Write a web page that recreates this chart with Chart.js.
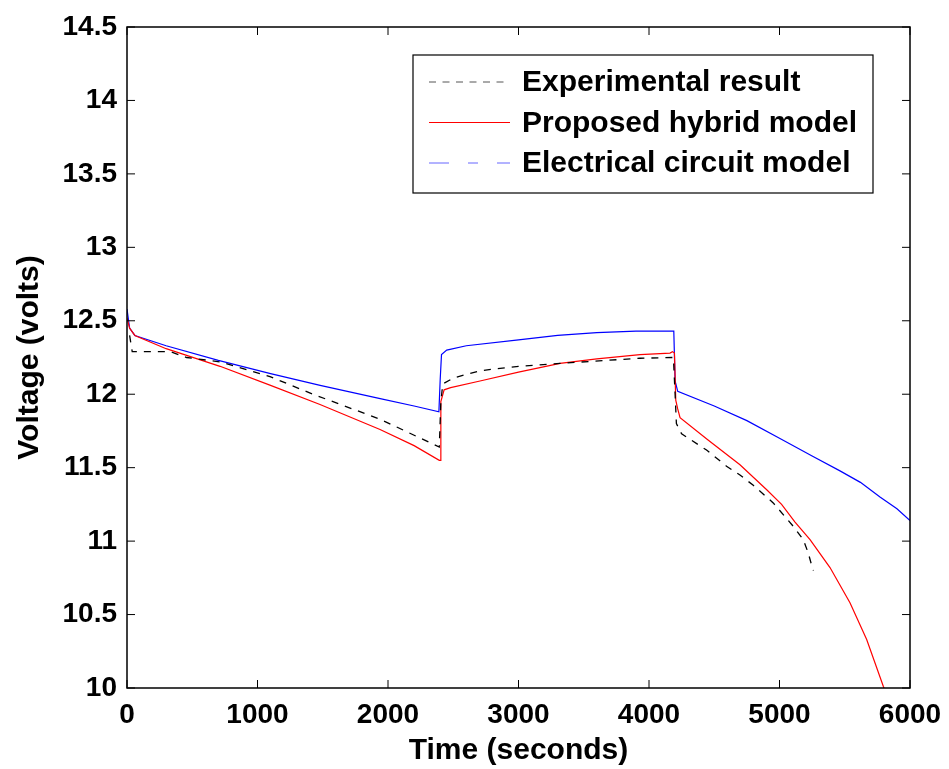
<!DOCTYPE html>
<html>
<head>
<meta charset="utf-8">
<script src="https://cdn.jsdelivr.net/npm/chart.js@4.4.0/dist/chart.umd.min.js"></script>
<style>
html, body { margin: 0; padding: 0; background: #fff; }
#wrap { width: 949px; height: 769px; }
</style>
</head>
<body>
<div id="wrap"><canvas id="voltChart"></canvas></div>
<script>
// tick values on both axes
var timeTicks = [0, 1000, 2000, 3000, 4000, 5000, 6000];
var voltTicks = [10, 10.5, 11, 11.5, 12, 12.5, 13, 13.5, 14, 14.5];

// experimental result (black dashed)
var expTime = [20, 40, 330, 457, 713, 1096, 1425, 1939, 2322, 2393, 2405, 2420, 2500, 2705, 3000, 3318, 3931, 4187, 4200, 4210, 4250, 4441, 4594, 4697, 4799, 4952, 5106, 5182, 5220, 5251, 5260];
var expVolt = [12.40, 12.29, 12.29, 12.25, 12.22, 12.12, 12.00, 11.83, 11.67, 11.64, 11.95, 12.07, 12.11, 12.16, 12.19, 12.21, 12.245, 12.25, 12.00, 11.80, 11.73, 11.62, 11.51, 11.45, 11.38, 11.26, 11.10, 11.01, 10.92, 10.82, 10.80];

// proposed hybrid model (red)
var hybTime = [0, 20, 60, 300, 713, 1100, 1479, 1939, 2200, 2393, 2400, 2405, 2430, 2480, 2705, 3000, 3318, 3600, 3931, 4161, 4180, 4195, 4205, 4220, 4238, 4450, 4697, 4902, 5016, 5119, 5234, 5387, 5540, 5668, 5796, 5810];
var hybVolt = [12.52, 12.45, 12.40, 12.31, 12.19, 12.06, 11.93, 11.76, 11.65, 11.55, 11.55, 11.95, 12.03, 12.045, 12.09, 12.15, 12.21, 12.24, 12.27, 12.28, 12.29, 12.28, 11.96, 11.90, 11.84, 11.69, 11.52, 11.35, 11.25, 11.13, 11.01, 10.82, 10.58, 10.33, 10.01, 9.98];

// electrical circuit model (blue)
var ecmTime = [0, 20, 60, 300, 700, 1100, 1480, 1940, 2200, 2390, 2400, 2410, 2450, 2600, 3000, 3300, 3600, 3900, 4190, 4200, 4220, 4500, 4750, 5000, 5250, 5460, 5620, 5770, 5900, 6000];
var ecmVolt = [12.58, 12.45, 12.40, 12.33, 12.23, 12.14, 12.06, 11.97, 11.92, 11.88, 12.10, 12.27, 12.30, 12.33, 12.37, 12.40, 12.42, 12.43, 12.43, 12.09, 12.02, 11.92, 11.82, 11.70, 11.58, 11.48, 11.40, 11.30, 11.22, 11.14];

function toPoints(xs, ys) {
  return xs.map(function (x, i) { return { x: x, y: ys[i] }; });
}

var fontFamily = "'Liberation Sans', Arial, sans-serif";
var tickFont = { family: fontFamily, size: 28, weight: 'bold' };
var titleFont = { family: fontFamily, size: 30, weight: 'bold' };

// box round the axes, inward ticks, and the legend inside the plot
var framePlugin = {
  id: 'frame',
  afterDraw: function (chart) {
    var c = chart.ctx, a = chart.chartArea;
    var xs = chart.scales.x, ys = chart.scales.y;
    c.save();
    c.strokeStyle = '#000';
    c.lineWidth = 1.5;
    c.strokeRect(a.left, a.top, a.right - a.left, a.bottom - a.top);
    c.lineWidth = 1;
    c.beginPath();
    timeTicks.forEach(function (t) {
      var px = xs.getPixelForValue(t);
      c.moveTo(px, a.bottom); c.lineTo(px, a.bottom - 8);
      c.moveTo(px, a.top); c.lineTo(px, a.top + 8);
    });
    voltTicks.forEach(function (v) {
      var py = ys.getPixelForValue(v);
      c.moveTo(a.left, py); c.lineTo(a.left + 8, py);
      c.moveTo(a.right, py); c.lineTo(a.right - 8, py);
    });
    c.stroke();

    // legend
    var bx = 413, by = 55, bw = 460, bh = 138;
    c.fillStyle = '#fff';
    c.fillRect(bx, by, bw, bh);
    c.lineWidth = 1.2;
    c.strokeRect(bx, by, bw, bh);
    c.font = 'bold 30px ' + fontFamily;
    c.textBaseline = 'middle';
    c.fillStyle = '#000';
    chart.data.datasets.forEach(function (ds, i) {
      var y = by + 27 + i * 40.5;
      c.beginPath();
      c.strokeStyle = ds.legendColor;
      c.lineWidth = 1;
      c.setLineDash(ds.legendDash);
      c.moveTo(bx + 16, y); c.lineTo(bx + 97, y);
      c.stroke();
      c.setLineDash([]);
      c.fillText(ds.label, bx + 109, y + 1);
    });
    c.restore();
  }
};

new Chart(document.getElementById('voltChart'), {
  type: 'line',
  data: {
    datasets: [
      {
        label: 'Experimental result',
        data: toPoints(expTime, expVolt),
        borderColor: '#000000',
        borderWidth: 1.3,
        borderDash: [7, 7],
        legendColor: '#555555',
        legendDash: [7, 6.5]
      },
      {
        label: 'Proposed hybrid model',
        data: toPoints(hybTime, hybVolt),
        borderColor: '#ff0000',
        borderWidth: 1.2,
        legendColor: '#ff0000',
        legendDash: []
      },
      {
        label: 'Electrical circuit model',
        data: toPoints(ecmTime, ecmVolt),
        borderColor: '#0000ff',
        borderWidth: 1.2,
        legendColor: '#6666ff',
        legendDash: [20, 19, 10, 19]
      }
    ]
  },
  options: {
    responsive: true,
    maintainAspectRatio: false,
    animation: false,
    layout: { padding: { left: 0, right: 39, top: 27, bottom: 0 } },
    elements: { point: { radius: 0 }, line: { tension: 0 } },
    plugins: { legend: { display: false }, tooltip: { enabled: false } },
    scales: {
      x: {
        type: 'linear',
        min: 0,
        max: 6000,
        afterFit: function (s) { s.height = 81; },
        afterBuildTicks: function (s) { s.ticks = timeTicks.map(function (v) { return { value: v }; }); },
        grid: { display: false },
        border: { display: false },
        ticks: {
          color: '#000',
          font: tickFont,
          padding: 2,
          maxRotation: 0,
          autoSkip: false,
          callback: function (v) { return String(v); }
        },
        title: { display: true, text: 'Time (seconds)', color: '#000', font: titleFont, padding: { top: 0, bottom: 0 } }
      },
      y: {
        min: 10,
        max: 14.5,
        afterFit: function (s) { s.width = 127; },
        afterBuildTicks: function (s) { s.ticks = voltTicks.map(function (v) { return { value: v }; }); },
        grid: { display: false },
        border: { display: false },
        ticks: {
          color: '#000',
          font: tickFont,
          padding: 2,
          autoSkip: false,
          callback: function (v) { return String(v); }
        },
        title: { display: true, text: 'Voltage (volts)', color: '#000', font: titleFont, padding: { top: 12, bottom: 0 } }
      }
    }
  },
  plugins: [framePlugin]
});
</script>
</body>
</html>
